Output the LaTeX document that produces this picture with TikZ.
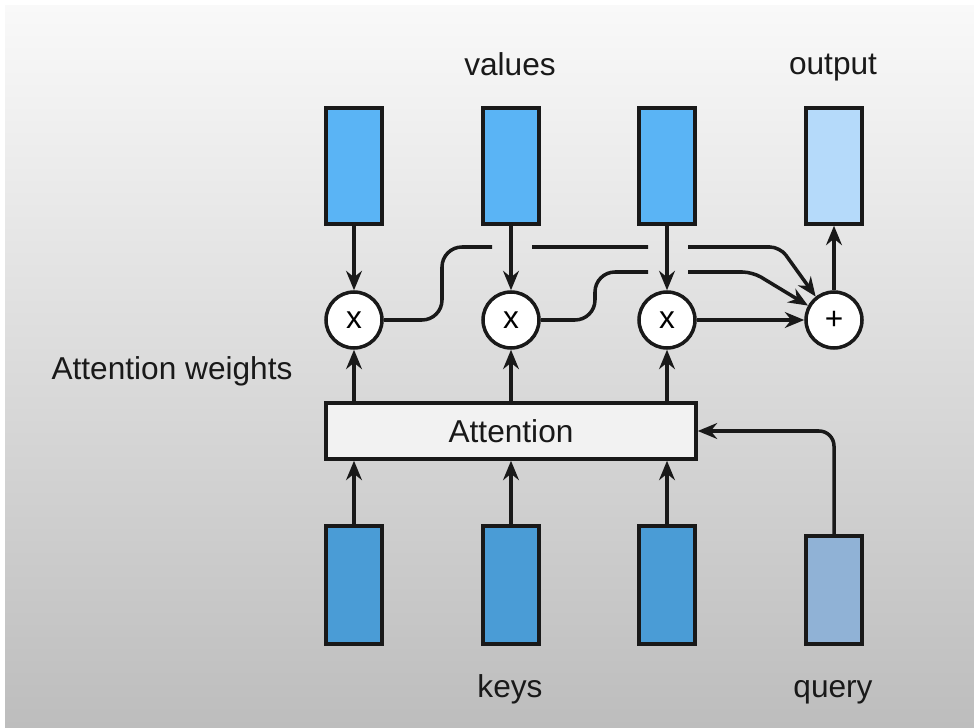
\documentclass[tikz,border=0pt]{standalone}
\usepackage{fontspec}
\setmainfont{Liberation Sans}
\usetikzlibrary{arrows.meta,positioning}
\definecolor{valblue}{RGB}{90,180,245}
\definecolor{outblue}{RGB}{181,218,250}
\definecolor{keyblue}{RGB}{74,156,214}
\definecolor{qryblue}{RGB}{144,178,214}
\definecolor{bgtop}{RGB}{249,249,249}
\definecolor{bgmid}{RGB}{236,236,236}
\definecolor{bgbot}{RGB}{189,189,189}

\tikzset{
  vec/.style={draw=black!90, line width=2pt, minimum width=1.12cm, inner sep=0pt},
  op/.style={circle, draw=black!90, line width=2pt, fill=white, minimum size=1.12cm, inner sep=0pt, font=\fontsize{18}{20}\selectfont},
  conn/.style={line width=2pt, draw=black!90, -{Stealth[length=11pt,width=9pt]}},
  lbl/.style={font=\fontsize{18}{22}\selectfont, text=black!90}
}

\begin{document}
\begin{tikzpicture}
\fill [white] (0,0) rectangle (19.48,14.54);
\shade [top color=bgtop, middle color=bgmid, bottom color=bgbot] (0.1,0) rectangle (19.48,14.42);

% values and output
\node (v1) [vec, fill=valblue, minimum height=2.32cm] at (7.08,11.22) {};
\node (v2) [vec, fill=valblue, minimum height=2.32cm] at (10.22,11.22) {};
\node (v3) [vec, fill=valblue, minimum height=2.32cm] at (13.34,11.22) {};
\node (out) [vec, fill=outblue, minimum height=2.32cm] at (16.68,11.22) {};
\node (lv) [lbl, anchor=base] at (10.2,13.02) {values};
\node (lo) [lbl, anchor=base] at (16.66,13.04) {output};

% weighting and sum
\node (x1) [op] at (7.08,8.14) {x};
\node (x2) [op] at (10.22,8.14) {x};
\node (x3) [op] at (13.34,8.14) {x};
\node (p) [op] at (16.68,8.14) {+};

\node (att) [draw=black!90, line width=2pt, fill=black!5, minimum width=7.4cm, minimum height=1.12cm, lbl] at (10.22,5.92) {Attention};
\node (lw) [lbl, anchor=base] at (3.44,6.94) {Attention weights};

% keys and query
\node (k1) [vec, fill=keyblue, minimum height=2.36cm] at (7.08,2.84) {};
\node (k2) [vec, fill=keyblue, minimum height=2.36cm] at (10.22,2.84) {};
\node (k3) [vec, fill=keyblue, minimum height=2.36cm] at (13.34,2.84) {};
\node (q) [vec, fill=qryblue, minimum height=2.16cm] at (16.68,2.74) {};
\node (lk) [lbl, anchor=base] at (10.2,0.6) {keys};
\node (lq) [lbl, anchor=base] at (16.66,0.6) {query};

\draw [conn] (k1.north) -- (k1 |- att.south);
\draw [conn] (k2.north) -- (k2 |- att.south);
\draw [conn] (k3.north) -- (k3 |- att.south);
\draw [conn, rounded corners=0.3cm] (q.north) |- (att.east);

\draw [conn] (x1 |- att.north) -- (x1.south);
\draw [conn] (x2 |- att.north) -- (x2.south);
\draw [conn] (x3 |- att.north) -- (x3.south);

\draw [conn] (v1.south) -- (x1.north);
\draw [conn] (v2.south) -- (x2.north);
\draw [conn] (v3.south) -- (x3.north);

% weighted values into the sum, broken where they pass the value arrows
\draw [conn, rounded corners=0.4cm] (x1.east) -- (8.84,8.14) -- (8.84,9.6) -- (9.84,9.6)
  (10.64,9.6) -- (12.96,9.6) (13.76,9.6) [rounded corners=0.2cm] -- (15.6,9.6) -- (p.128);
\draw [conn, rounded corners=0.4cm] (x2.east) -- (11.9,8.14) -- (11.9,9.1) -- (12.96,9.1)
  (13.76,9.1) [rounded corners=0.2cm] -- (15.05,9.1) -- (p.151);
\draw [conn] (x3.east) -- (p.west);
\draw [conn] (p.north) -- (out.south);
\end{tikzpicture}
\end{document}
